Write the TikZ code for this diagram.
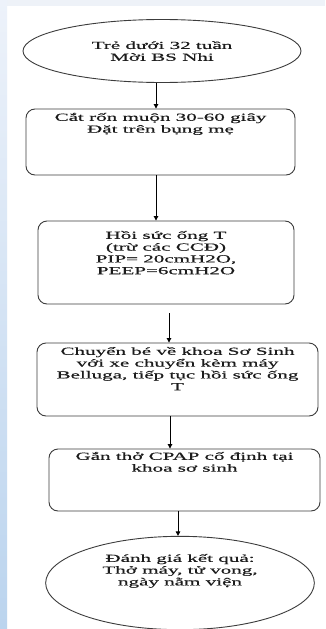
\documentclass[tikz,border=0pt]{standalone}
\usepackage{fontspec}
\usepackage{tikz}
\usetikzlibrary{shapes.geometric,arrows.meta}
\newfontfamily\flowfont{Liberation Serif}[FakeStretch=1.95,FakeBold=0.5]
\definecolor{edge}{HTML}{3C3C3C}
\definecolor{ink}{HTML}{1C1C1C}
\definecolor{stripe}{HTML}{EEF2F8}
\definecolor{bartop}{HTML}{EDF2FA}
\definecolor{barbot}{HTML}{BBD4EE}
% text block of given width/height, pushed down from the top
\newcommand{\boxlines}[4]{\parbox[c][#2][t]{#1}{\centering\vspace*{#3}#4\par}}
\tikzset{
  stepbox/.style={draw=edge, line width=0.9pt, rounded corners=9pt, inner sep=0pt,
    text=ink, font=\flowfont\fontsize{10.8pt}{11.8pt}\selectfont},
  oval/.style={draw=edge, line width=0.9pt, ellipse, inner sep=0pt, align=center,
    text=ink, font=\flowfont\fontsize{10.8pt}{11.8pt}\selectfont},
  flow/.style={draw=black, line width=0.9pt, -{Triangle[width=4.5pt,length=4.5pt]}},
}

\begin{document}
\begin{tikzpicture}[x=1pt,y=-1pt]
  % page and side bars
  \path[use as bounding box, fill=white] (0,0) rectangle (325,629);
  \fill[stripe] (0,0) rectangle (325,6);
  \shade[top color=bartop, bottom color=barbot] (0,0) rectangle (7,629);
  % steps
  \node[oval, minimum width=278pt, minimum height=63pt] (start) at (162,51)
    {Trẻ dưới 32 tuần\\Mời BS Nhi};
  \node[stepbox] (cut) at (160.5,142)
    {\boxlines{269pt}{66pt}{4pt}{Cắt rốn muộn 30-60 giây\\Đặt trên bụng mẹ}};
  \node[stepbox] (hoisuc) at (166,262.5)
    {\boxlines{256pt}{83pt}{10pt}{Hồi sức ống T\\(trừ các CCĐ)\\PIP= 20cmH2O,\\PEEP=6cmH2O}};
  \node[stepbox] (chuyen) at (177.5,379.5)
    {\boxlines{281pt}{73pt}{4pt}{Chuyển bé về khoa Sơ Sinh\\với xe chuyển kèm máy\\Belluga, tiếp tục hồi sức ống\\T}};
  \node[stepbox] (gan) at (184.5,480)
    {\boxlines{271pt}{62pt}{3pt}{Gắn thở CPAP cố định tại\\khoa sơ sinh}};
  \node[oval, minimum width=266pt, minimum height=84pt] (ketqua) at (180,583)
    {\boxlines{190pt}{66pt}{4pt}{Đánh giá kết quả:\\Thở máy, tử vong,\\ngày nằm viện}};
  % arrows
  \coordinate (gap) at ([yshift=-9pt]hoisuc.south);
  \draw[flow] (start.south -| 156,0) -- (cut.north -| 156,0);
  \draw[flow] (cut.south -| 156,0) -- (hoisuc.north -| 156,0);
  \draw[flow] (gap -| 169,0) -- (chuyen.north -| 169,0);
  \draw[flow] (chuyen.south -| 170,0) -- (gan.north -| 170,0);
  \draw[flow] (gan.south -| 178,0) -- (ketqua.north -| 178,0);
\end{tikzpicture}
\end{document}
